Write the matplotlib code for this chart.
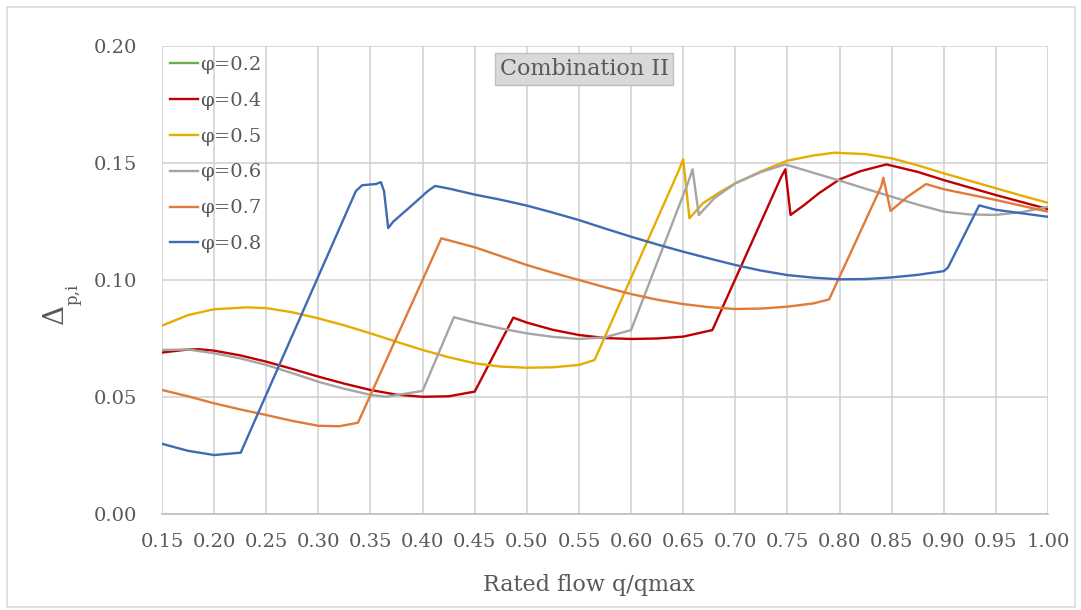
import matplotlib
matplotlib.use("Agg")
import matplotlib.pyplot as plt
from matplotlib.patches import Rectangle

# ---- data ----
labels = ["φ=0.2", "φ=0.4", "φ=0.5", "φ=0.6", "φ=0.7", "φ=0.8"]

x_02 = []
y_02 = []

x_04 = [0.15, 0.175, 0.186, 0.20, 0.225, 0.25, 0.275, 0.30, 0.325, 0.35, 0.375, 0.40, 0.425, 0.45,
        0.487, 0.50, 0.525, 0.55, 0.575, 0.60, 0.625, 0.65, 0.678, 0.744, 0.748, 0.753, 0.766, 0.78,
        0.80, 0.82, 0.845, 0.875, 0.90, 0.925, 0.95, 0.975, 1.00]
y_04 = [0.0690, 0.0703, 0.0704, 0.0698, 0.0678, 0.0651, 0.0620, 0.0587, 0.0557, 0.0530, 0.0510, 0.0501,
        0.0503, 0.0523, 0.0839, 0.0818, 0.0787, 0.0765, 0.0752, 0.0748, 0.0750, 0.0758, 0.0786, 0.1440,
        0.1473, 0.1278, 0.1320, 0.1370, 0.1430, 0.1465, 0.1494, 0.1462, 0.1427, 0.1395, 0.1363, 0.1333,
        0.1303]

x_05 = [0.15, 0.175, 0.20, 0.231, 0.25, 0.275, 0.30, 0.325, 0.35, 0.375, 0.40, 0.425, 0.45, 0.475,
        0.50, 0.525, 0.55, 0.565, 0.645, 0.650, 0.656, 0.669, 0.685, 0.70, 0.725, 0.75, 0.775, 0.795,
        0.825, 0.85, 0.875, 0.90, 0.925, 0.95, 0.975, 1.00]
y_05 = [0.0805, 0.0850, 0.0875, 0.0883, 0.0880, 0.0862, 0.0836, 0.0806, 0.0772, 0.0736, 0.0701, 0.0670,
        0.0644, 0.0630, 0.0625, 0.0627, 0.0637, 0.0658, 0.1460, 0.1516, 0.1264, 0.1328, 0.1375, 0.1413,
        0.1465, 0.1510, 0.1532, 0.1544, 0.1538, 0.1520, 0.1490, 0.1456, 0.1424, 0.1392, 0.1360, 0.1330]

x_06 = [0.15, 0.175, 0.20, 0.225, 0.25, 0.275, 0.30, 0.325, 0.35, 0.365, 0.40, 0.43, 0.45, 0.475,
        0.50, 0.525, 0.55, 0.575, 0.60, 0.655, 0.659, 0.665, 0.68, 0.70, 0.725, 0.748, 0.775, 0.80,
        0.825, 0.85, 0.875, 0.90, 0.925, 0.95, 0.975, 1.00]
y_06 = [0.0701, 0.0703, 0.0687, 0.0665, 0.0637, 0.0602, 0.0565, 0.0535, 0.0509, 0.0501, 0.0526, 0.0841,
        0.0818, 0.0793, 0.0772, 0.0757, 0.0748, 0.0755, 0.0786, 0.1420, 0.1473, 0.1278, 0.1350, 0.1413,
        0.1462, 0.1494, 0.1458, 0.1425, 0.1390, 0.1356, 0.1322, 0.1292, 0.1280, 0.1278, 0.1290, 0.1313]

x_07 = [0.15, 0.175, 0.20, 0.225, 0.25, 0.275, 0.30, 0.32, 0.338, 0.418, 0.45, 0.475, 0.50, 0.525,
        0.55, 0.575, 0.60, 0.625, 0.65, 0.675, 0.70, 0.725, 0.75, 0.775, 0.790, 0.840, 0.842, 0.849,
        0.865, 0.883, 0.90, 0.925, 0.95, 0.975, 1.00]
y_07 = [0.0530, 0.0503, 0.0473, 0.0447, 0.0423, 0.0398, 0.0377, 0.0375, 0.0390, 0.1178, 0.1140, 0.1102,
        0.1064, 0.1031, 0.1000, 0.0969, 0.0940, 0.0916, 0.0897, 0.0884, 0.0876, 0.0878, 0.0886, 0.0900,
        0.0917, 0.1400, 0.1437, 0.1295, 0.1355, 0.1410, 0.1388, 0.1365, 0.1342, 0.1317, 0.1292]

x_08 = [0.15, 0.175, 0.20, 0.2255, 0.336, 0.342, 0.355, 0.360, 0.363, 0.367, 0.372, 0.39, 0.405, 0.412,
        0.426, 0.45, 0.475, 0.50, 0.525, 0.55, 0.575, 0.60, 0.625, 0.65, 0.675, 0.70, 0.725, 0.75, 0.775,
        0.80, 0.825, 0.85, 0.875, 0.90, 0.904, 0.934, 0.95, 0.975, 1.00]
y_08 = [0.0300, 0.0270, 0.0252, 0.0262, 0.1380, 0.1405, 0.1410, 0.1418, 0.1380, 0.1222, 0.1250, 0.1320,
        0.1380, 0.1402, 0.1390, 0.1365, 0.1343, 0.1318, 0.1288, 0.1256, 0.1220, 0.1185, 0.1152, 0.1121,
        0.1092, 0.1064, 0.1040, 0.1021, 0.1010, 0.1003, 0.1004, 0.1011, 0.1022, 0.1038, 0.1053, 0.1319,
        0.1300, 0.1285, 0.1270]

colors = ["#70ad47", "#c00000", "#e6ac00", "#a5a5a5", "#e07b39", "#3f6bb5"]

x_ticks = [0.15, 0.20, 0.25, 0.30, 0.35, 0.40, 0.45, 0.50, 0.55, 0.60, 0.65, 0.70, 0.75, 0.80,
           0.85, 0.90, 0.95, 1.00]
y_ticks = [0.00, 0.05, 0.10, 0.15, 0.20]

# ---- figure ----
plt.rcParams["font.family"] = ["DejaVu Serif"]
plt.rcParams["mathtext.fontset"] = "dejavuserif"
txt = "#595959"

fig = plt.figure(figsize=(10.81, 6.10), dpi=100)
fig.patches.append(Rectangle((7 / 1081, 3 / 610), 1068 / 1081, 600 / 610, transform=fig.transFigure,
                             fill=False, edgecolor="#d9d9d9", linewidth=1.2))
ax = fig.add_axes([162 / 1081, 1 - 514 / 610, 886 / 1081, 468 / 610])

series = [(x_02, y_02), (x_04, y_04), (x_05, y_05), (x_06, y_06), (x_07, y_07), (x_08, y_08)]
for (xs, ys), lab, c in zip(series, labels, colors):
    ax.plot(xs, ys, color=c, linewidth=1.7, label=lab, solid_joinstyle="round")

ax.set_xlim(0.15, 1.00)
ax.set_ylim(0.0, 0.20)
ax.set_xticks(x_ticks)
ax.set_xticklabels([f"{v:.2f}" for v in x_ticks])
ax.set_yticks(y_ticks)
ax.set_yticklabels([f"{v:.2f}" for v in y_ticks])
ax.tick_params(axis="both", length=0, labelsize=14, colors=txt)
ax.tick_params(axis="x", pad=14)
ax.tick_params(axis="y", pad=18)
ax.grid(True, color="#d0d0d0", linewidth=1.1)
ax.set_axisbelow(True)
for s in ["top", "right", "left"]:
    ax.spines[s].set_visible(False)
ax.spines["bottom"].set_color("#bfbfbf")
ax.spines["bottom"].set_linewidth(1.2)

ax.set_xlabel("Rated flow q/qmax", fontsize=16, color=txt)
ax.xaxis.set_label_coords((589 - 162) / 886, -(574 - 514) / 468)
fig.text(57 / 1081, 1 - 316 / 610, "$\\Delta$", rotation=90, fontsize=20, color=txt,
         ha="center", va="center")
fig.text(73 / 1081, 1 - 294 / 610, "p,i", rotation=90, fontsize=12, color=txt,
         ha="center", va="center")

leg = ax.legend(loc="upper left", frameon=False, fontsize=14, handlelength=1.45,
                handletextpad=0.1, labelspacing=0.92, borderaxespad=0.0,
                bbox_to_anchor=(0.0, 1.0 - 2 / 468))
for t in leg.get_texts():
    t.set_color(txt)

ax.text((584 - 162) / 886, (514 - 69) / 468, "Combination II", transform=ax.transAxes,
        ha="center", va="center", fontsize=16, color=txt,
        bbox=dict(boxstyle="square,pad=0.22", facecolor="#d9d9d9", edgecolor="#bfbfbf"))

fig.savefig("out.png", dpi=100)
